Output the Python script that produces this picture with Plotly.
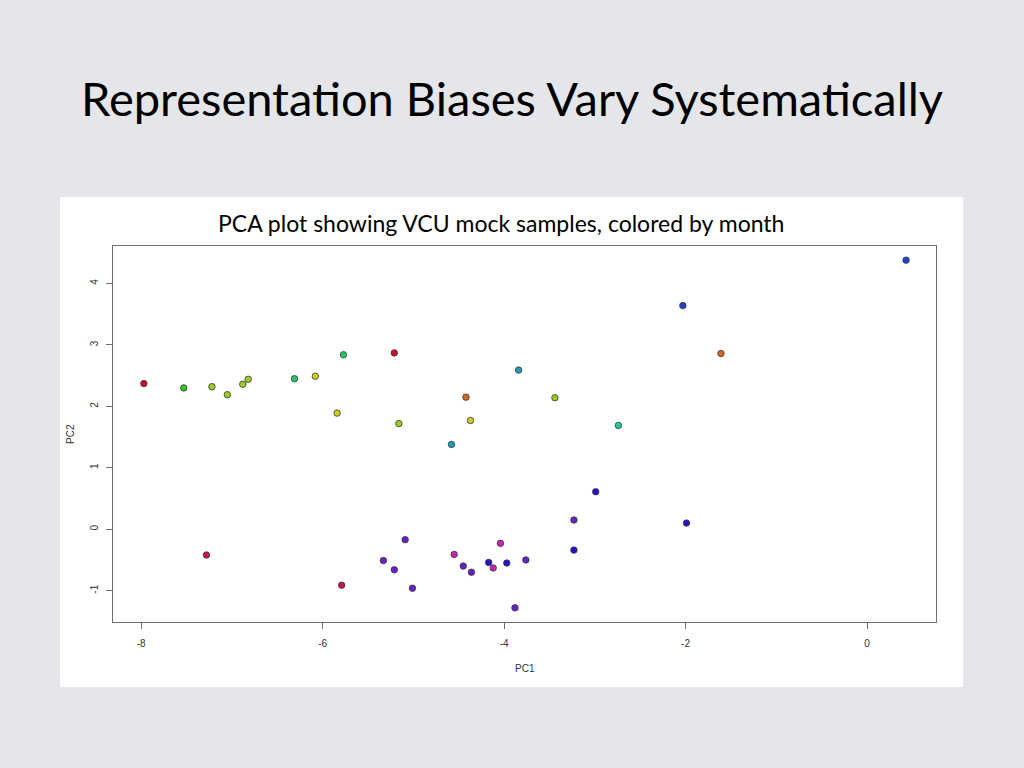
import plotly.graph_objects as go

# ---- data ----
pc1 = [-7.97, -7.53, -7.22, -7.05, -6.88, -6.82, -6.31, -6.08, -5.77, -5.84,
       -5.21, -5.16, -4.42, -4.37, -4.58, 0.43, -2.03, -1.61, -3.84, -3.44,
       -2.74, -7.28, -5.79, -5.33, -5.21, -5.09, -5.01, -4.55, -4.45, -4.36,
       -4.17, -4.12, -4.04, -3.97, -3.76, -3.88, -3.23, -3.23, -2.99, -1.99]
pc2 = [2.37, 2.30, 2.32, 2.19, 2.36, 2.44, 2.45, 2.49, 2.84, 1.89,
       2.87, 1.72, 2.15, 1.77, 1.38, 4.38, 3.64, 2.86, 2.59, 2.14,
       1.69, -0.42, -0.91, -0.51, -0.66, -0.17, -0.96, -0.41, -0.60, -0.70,
       -0.54, -0.63, -0.23, -0.55, -0.50, -1.28, 0.15, -0.34, 0.61, 0.10]
# month group of each sample (index into month_colors)
month = [0, 5, 4, 4, 4, 4, 6, 3, 6, 3,
         0, 4, 2, 3, 8, 9, 9, 2, 8, 4,
         7, 1, 1, 11, 11, 11, 11, 12, 11, 11,
         10, 12, 12, 10, 11, 11, 11, 10, 10, 10]
month_colors = ["#C0142C", "#C8154F", "#CF6A24", "#D2CC22", "#9CCB22",
                "#35C81A", "#22C865", "#22C99A", "#2399BE", "#2143C4",
                "#2412C4", "#6A20C4", "#C424B0"]

x_ticks = [-8, -6, -4, -2, 0]
x_tick_labels = ["-8", "-6", "-4", "-2", "0"]
y_ticks = [-1, 0, 1, 2, 3, 4]
y_tick_labels = ["-1", "0", "1", "2", "3", "4"]

W, H = 1024, 768
L, R, T, B = 113, 936, 246, 622
pw, ph = R - L, B - T

def px(x):
    return (x - L) / pw

def py(y):
    return (B - y) / ph

fig = go.Figure()
fig.add_trace(go.Scatter(
    x=pc1, y=pc2, mode="markers",
    marker=dict(size=6.5, color=[month_colors[m] for m in month],
                line=dict(color="#3a3a3a", width=0.8)),
    showlegend=False, hoverinfo="x+y"))

axis_common = dict(showgrid=False, zeroline=False, showline=True, mirror=True,
                   linecolor="#6e6e6e", linewidth=1.2, ticks="outside",
                   ticklen=6, tickcolor="#6e6e6e", tickwidth=1,
                   tickfont=dict(family="Liberation Sans, Arial", size=10, color="#333333"))

fig.update_xaxes(range=[-8.31, 0.76], tickvals=x_ticks, ticktext=x_tick_labels,
                 ticklabelstandoff=6, **axis_common)
fig.update_yaxes(range=[-1.51, 4.61], tickvals=y_ticks, ticktext=y_tick_labels,
                 tickangle=-90, ticklabelstandoff=4, **axis_common)

shapes = [dict(type="rect", xref="paper", yref="paper", layer="below",
               x0=px(60), x1=px(963), y0=py(687), y1=py(197),
               fillcolor="white", line=dict(width=0))]

annotations = [
    dict(text="Representation Biases Vary Systematically", xref="paper", yref="paper",
         x=px(511.5), y=py(98), showarrow=False, xanchor="center", yanchor="middle",
         font=dict(family="Lato, Open Sans", size=47, color="#000000")),
    dict(text="PCA plot showing VCU mock samples, colored by month", xref="paper", yref="paper",
         x=px(500.5), y=py(223), showarrow=False, xanchor="center", yanchor="middle",
         font=dict(family="Lato, Open Sans", size=23, color="#000000")),
    dict(text="PC1", xref="paper", yref="paper", x=0.5, y=py(668), showarrow=False,
         xanchor="center", yanchor="middle",
         font=dict(family="Liberation Sans, Arial", size=10, color="#333333")),
    dict(text="PC2", xref="paper", yref="paper", x=px(70), y=0.5, showarrow=False,
         textangle=-90, xanchor="center", yanchor="middle",
         font=dict(family="Liberation Sans, Arial", size=10, color="#333333")),
]

fig.update_layout(width=W, height=H, margin=dict(l=L, r=W - R, t=T, b=H - B, pad=0),
                  paper_bgcolor="#E5E6EA", plot_bgcolor="white",
                  shapes=shapes, annotations=annotations)

fig.write_html("out.html", config={"displayModeBar": False},
               post_script="document.body.style.margin='0';document.body.style.overflow='hidden';")
